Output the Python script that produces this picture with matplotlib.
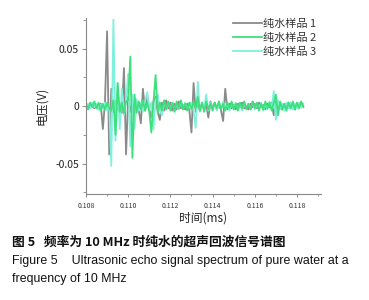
import matplotlib
matplotlib.use("Agg")
import matplotlib.pyplot as plt
import numpy as np
from matplotlib.ticker import MultipleLocator, FixedLocator

plt.rcParams['font.family'] = ['Noto Sans CJK SC', 'DejaVu Sans']

t_start = 0.108
t_step = 0.0001

# values in mV
s1 = [1,-2,2,0,-2,1,-3,2,-20,3,
      65,-42,15,-5,4,-3,2,-6,33,-42,
      8,-5,3,-6,4,-3,-15,15,-4,10,
      -3,-10,4,8,-5,-12,3,-4,5,-2,
      3,-4,2,-3,4,-2,1,-3,2,-4,
      -23,20,-5,3,-4,2,-3,1,-10,4,
      -2,3,-3,2,-4,-13,15,-3,2,-2,
      1,-3,2,-1,3,-2,0,-3,2,-1,
      2,-2,3,-1,1,-3,2,-1,3,-8,
      4,-2,1,-3,2,-1,3,-2,1,-3,
      2,-1,3,0]
s2 = [2,-3,3,-1,4,-2,3,-4,2,-3,
      3,-2,-4,5,-25,20,-5,3,-6,4,
      5,43,-45,10,-6,4,-3,5,-4,3,
      -5,-23,4,27,-6,3,-4,5,-3,4,
      -4,3,-5,4,-2,5,-3,2,-4,3,
      -3,4,-2,8,-4,3,-5,4,-3,2,
      -4,3,-2,4,-3,2,-4,3,-2,4,
      -3,2,-4,3,-2,4,-3,2,-3,4,
      -2,3,-4,2,-3,4,-2,3,-4,3,
      10,-8,4,-3,2,-4,3,-2,4,-3,
      3,-2,4,-1]
s3 = [0,2,-2,3,-1,2,-3,1,-2,3,
      -4,2,-52,75,-30,20,-20,15,-8,5,
      28,-35,10,-20,6,-4,3,-5,4,12,
      -4,3,-20,5,10,-3,-8,4,-3,2,
      -2,3,-4,2,-3,4,-2,3,-3,2,
      3,-4,-19,21,-5,3,-2,10,-4,3,
      -3,2,-4,3,-2,4,-3,2,-4,3,
      -2,3,-3,2,-4,3,-2,2,-3,4,
      -3,2,-2,3,-4,2,-3,4,-2,13,
      -12,5,-3,2,-4,3,-2,3,-3,2,
      -2,3,-1,2]

labels = ['纯水样品 1', '纯水样品 2', '纯水样品 3']
colors = ['#8a8a8a', '#3ee07c', '#7ff0dc']

xticks = [0.108, 0.110, 0.112, 0.114, 0.116, 0.118]
xticklabels = ['0.108', '0.110', '0.112', '0.114', '0.116', '0.118']
yticks = [-0.05, 0, 0.05]
yticklabels = ['-0.05', '0', '0.05']

fig = plt.figure(figsize=(3.69, 3.0), dpi=100)
ax = fig.add_axes([0.233, 0.353, 0.637, 0.587])

t = t_start + t_step * np.arange(len(s1))
series = [np.array(s1) / 1000, np.array(s2) / 1000, np.array(s3) / 1000]
lines = [None] * 3
for idx in [0, 2, 1]:
    ln, = ax.plot(t, series[idx], color=colors[idx], lw=1.3, label=labels[idx])
    lines[idx] = ln

ax.set_xlim(0.108, 0.11914)
ax.set_ylim(-0.0765, 0.0765)
ax.spines['top'].set_visible(False)
ax.spines['right'].set_visible(False)
for s in ['left', 'bottom']:
    ax.spines[s].set_color('#888888')
    ax.spines[s].set_linewidth(0.8)

ax.xaxis.set_major_locator(FixedLocator(xticks))
ax.set_xticklabels(xticklabels)
ax.xaxis.set_minor_locator(MultipleLocator(0.001))
ax.yaxis.set_major_locator(FixedLocator(yticks))
ax.set_yticklabels(yticklabels)
ax.yaxis.set_minor_locator(MultipleLocator(0.025))
ax.tick_params(axis='x', which='major', labelsize=5, colors='#888888', labelcolor='#333333', length=2, width=0.7, pad=4)
ax.tick_params(axis='x', which='minor', colors='#888888', length=1.5, width=0.6)
ax.tick_params(axis='y', which='major', labelsize=7.5, colors='#888888', labelcolor='#222222', length=3, width=0.7, pad=2)
ax.tick_params(axis='y', which='minor', colors='#888888', length=2, width=0.6)

ax.set_xlabel('时间(ms)', fontsize=8.5, color='#222222', labelpad=1)
ax.set_ylabel('电压(V)', fontsize=8.5, color='#222222', labelpad=5)

leg = ax.legend(handles=lines, loc='upper right', bbox_to_anchor=(1.0, 1.018), frameon=False,
                fontsize=8, handlelength=2.6, handletextpad=0.15, labelspacing=0.35, borderaxespad=0)
for txt in leg.get_texts():
    txt.set_color('#333333')

fig.text(0.033, 0.193, '图 5   频率为 10 MHz 时纯水的超声回波信号谱图', fontsize=9.2,
         fontweight='bold', color='#111111', va='center', family=['Noto Sans CJK SC', 'DejaVu Sans'])
fig.text(0.033, 0.13, 'Figure 5    Ultrasonic echo signal spectrum of pure water at a', fontsize=8.9,
         color='#111111', va='center', family=['Liberation Sans', 'DejaVu Sans'])
fig.text(0.033, 0.07, 'frequency of 10 MHz', fontsize=8.9,
         color='#111111', va='center', family=['Liberation Sans', 'DejaVu Sans'])

fig.savefig('out.png', dpi=100)
